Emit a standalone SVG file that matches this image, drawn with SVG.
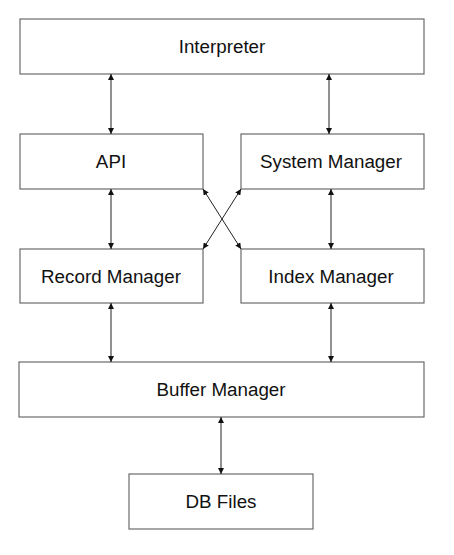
<svg xmlns="http://www.w3.org/2000/svg" width="454" height="555" viewBox="0 0 454 555">
<style>
.box{fill:#fff;stroke:#6b6b6b;stroke-width:1.2}
.lbl{font-family:"Liberation Sans",Arial,sans-serif;font-size:18.8px;fill:#111;text-anchor:middle}
.cn{stroke:#222;stroke-width:1;fill:none;marker-start:url(#ah);marker-end:url(#ah)}
</style>
<defs>
<marker id="ah" viewBox="0 0 10 10" refX="10" refY="5" markerWidth="6" markerHeight="6" markerUnits="userSpaceOnUse" orient="auto-start-reverse">
<path d="M0,0 L10,5 L0,10 z" fill="#111"/>
</marker>
</defs>
<rect width="454" height="555" fill="#fff"/>
<g id="interpreter"><rect class="box" x="20" y="19" width="404" height="55"/><text class="lbl" x="222" y="53">Interpreter</text></g>
<g id="api"><rect class="box" x="20" y="134" width="183" height="55"/><text class="lbl" x="111" y="168">API</text></g>
<g id="system-manager"><rect class="box" x="241" y="134" width="183" height="55"/><text class="lbl" x="331" y="168">System Manager</text></g>
<g id="record-manager"><rect class="box" x="20" y="249" width="183" height="54"/><text class="lbl" x="111" y="283">Record Manager</text></g>
<g id="index-manager"><rect class="box" x="241" y="249" width="183" height="54"/><text class="lbl" x="331" y="283">Index Manager</text></g>
<g id="buffer-manager"><rect class="box" x="19" y="362" width="405" height="55"/><text class="lbl" x="221" y="396">Buffer Manager</text></g>
<g id="db-files"><rect class="box" x="129" y="474" width="184" height="55"/><text class="lbl" x="221" y="508">DB Files</text></g>
<g id="connectors">
<line class="cn" x1="111" y1="74" x2="111" y2="134"/>
<line class="cn" x1="329" y1="74" x2="329" y2="134"/>
<line class="cn" x1="111" y1="189" x2="111" y2="249"/>
<line class="cn" x1="331" y1="189" x2="331" y2="249"/>
<line class="cn" x1="203" y1="189" x2="241" y2="249"/>
<line class="cn" x1="241" y1="189" x2="203" y2="249"/>
<line class="cn" x1="111" y1="303" x2="111" y2="362"/>
<line class="cn" x1="331" y1="303" x2="331" y2="362"/>
<line class="cn" x1="221" y1="417" x2="221" y2="474"/>
</g>
</svg>
